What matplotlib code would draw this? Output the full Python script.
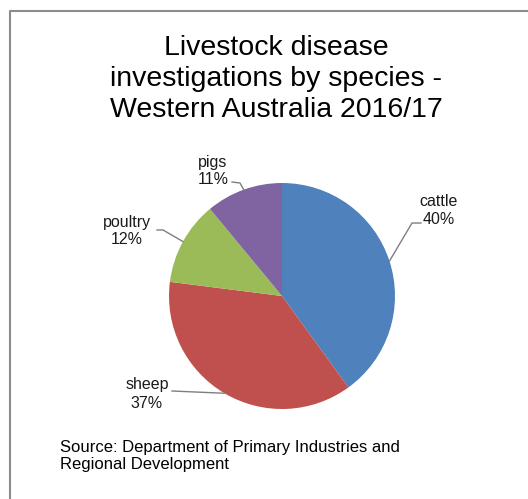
import numpy as np
import matplotlib.pyplot as plt
from matplotlib.lines import Line2D

plt.rcParams['font.family'] = ['Liberation Sans', 'DejaVu Sans']

# pie data
species = ['cattle', 'sheep', 'poultry', 'pigs']
shares = [40, 37, 12, 11]
colours = ['#4F81BD', '#C0504D', '#9BBB59', '#8064A2']

W, H = 528, 499
fig = plt.figure(figsize=(W / 100, H / 100), dpi=100)

# pie centre and radius in pixels
cx, cy, r = 282, 296, 113
ax = fig.add_axes([(cx - r) / W, (H - cy - r) / H, 2 * r / W, 2 * r / H])
wedges, _ = ax.pie(shares, colors=colours, startangle=90, counterclock=False,
                   radius=1, wedgeprops=dict(linewidth=0))
ax.set_xlim(-1, 1)
ax.set_ylim(-1, 1)
ax.set_aspect('auto')
ax.axis('off')

def px(x, y):
    return x / W, 1 - y / H

# chart border (top and left only visible)
fig.add_artist(Line2D([10 / W, 10 / W, 1], [0, 1 - 11 / H, 1 - 11 / H],
                      transform=fig.transFigure, color='#8c8c8c', lw=1.5))

fig.text(*px(276, 79), 'Livestock disease\ninvestigations by species -\nWestern Australia 2016/17',
         ha='center', va='center', fontsize=20.5, linespacing=1.27)

# label text positions and leader bends (pixels)
label_pos = {'cattle': (439, 211), 'sheep': (147, 394), 'poultry': (127, 231), 'pigs': (213, 171)}
bends = {'cattle': [(412, 223), (421, 223)], 'sheep': [(172, 391)],
         'poultry': [(163, 230), (157, 230)], 'pigs': [(240, 183), (232, 182)]}

for w, name, val in zip(wedges, species, shares):
    mid = np.deg2rad((w.theta1 + w.theta2) / 2)
    ex, ey = cx + r * np.cos(mid), cy - r * np.sin(mid)
    pts = [(ex, ey)] + bends[name]
    xs = [p[0] / W for p in pts]
    ys = [1 - p[1] / H for p in pts]
    fig.add_artist(Line2D(xs, ys, transform=fig.transFigure, color='#7f7f7f', lw=1))
    fig.text(*px(*label_pos[name]), f'{name}\n{val}%', ha='center', va='center',
             fontsize=11.5, linespacing=1.25, color='#1a1a1a')

fig.text(*px(60, 456), 'Source: Department of Primary Industries and\nRegional Development',
         ha='left', va='center', fontsize=12, linespacing=1.2)

fig.savefig('out.png', dpi=100)
